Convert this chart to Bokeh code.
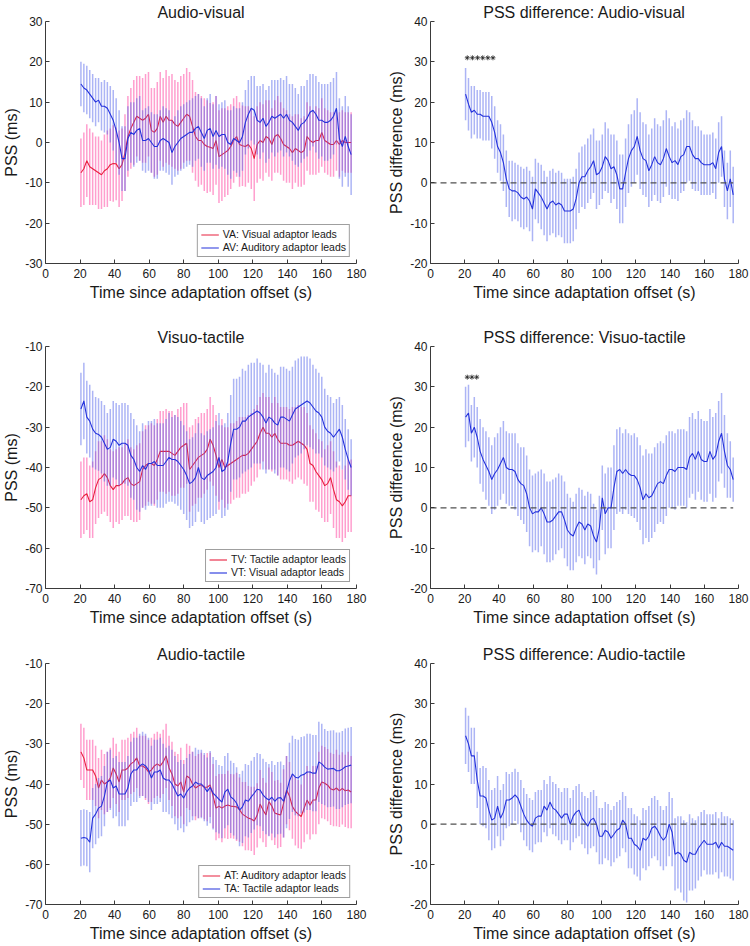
from bokeh.plotting import figure
from bokeh.layouts import column, row
from bokeh.models import (Range1d, FixedTicker, ColumnDataSource, Legend,
                          LegendItem, CustomJSTickFormatter)
from bokeh.embed import file_html
from bokeh.resources import INLINE

# ---------------- data ----------------
times = [round(20.5 + 1.7 * i, 2) for i in range(93)]
x_ticks = [0, 20, 40, 60, 80, 100, 120, 140, 160, 180]

# Audio-visual
va = [-7.5,-6.5,-4.5,-6.0,-6.5,-7.0,-7.5,-8.0,-7.0,-6.5,
      -5.5,-5.2,-5.3,-6.5,-5.5,-2.5,1.5,3.5,5.0,6.5,
      6.0,5.5,6.0,7.0,3.0,2.5,3.5,6.5,5.0,6.5,
      5.5,5.5,4.5,4.0,5.0,6.0,7.0,6.5,4.0,1.5,
      0.5,0.5,-0.5,-1.0,-1.2,-1.5,0.5,-3.5,-3.0,-2.5,
      -2.0,-1.0,0.5,1.5,-0.5,-0.8,-1.0,-0.5,-1.5,-4.0,
      -0.5,0.5,0.0,1.5,1.0,-0.5,1.5,2.0,1.0,-0.5,
      -1.0,-1.5,-2.5,-1.5,-2.0,-2.5,-2.0,1.5,0.5,0.0,
      0.5,0.5,2.5,0.5,0.0,-0.5,-0.5,0.5,-0.5,0.5,
      0.0,0.0,0.0]
va_err = [8.5,9.0,9.0,9.5,9.0,8.5,9.0,8.5,9.0,9.5,
          9.0,9.5,9.0,9.5,9.0,9.5,10.0,10.0,10.5,10.0,
          10.5,10.5,11.0,10.5,10.5,11.0,11.5,11.0,11.0,11.5,
          11.0,11.5,11.0,11.0,11.5,11.0,11.5,11.0,11.5,11.0,
          11.5,11.0,11.5,11.5,11.0,11.5,11.0,11.5,11.5,11.0,
          11.0,10.5,10.5,10.0,10.5,10.0,10.0,9.5,10.0,10.5,
          9.5,9.5,9.5,9.0,9.5,9.0,9.0,9.5,9.0,9.0,
          9.0,8.5,9.0,8.5,9.0,8.5,8.5,8.5,8.5,8.0,
          8.5,8.0,8.5,8.0,8.0,8.0,8.0,7.5,8.0,7.5,
          7.5,7.5,7.5]
av = [14.5,13.5,13.0,12.0,11.0,10.0,10.5,9.0,9.0,8.5,
      7.0,5.5,3.0,0.0,-4.0,-4.0,1.0,2.5,2.0,3.0,
      3.5,0.5,0.5,1.0,0.0,-1.0,-1.0,0.5,1.0,0.5,
      0.0,-2.5,-1.0,0.0,1.0,1.5,2.0,2.5,2.5,3.5,
      4.0,2.5,1.0,3.0,3.5,1.5,3.0,1.5,2.0,2.0,
      0.0,-0.5,1.0,0.5,0.0,1.5,5.0,7.0,8.5,8.0,
      5.5,5.0,6.0,4.0,5.0,6.5,6.0,6.5,7.0,6.0,
      7.0,5.5,5.0,4.0,3.0,4.5,5.0,6.0,7.5,8.0,
      7.0,5.5,5.5,5.0,5.0,5.5,6.5,8.5,1.0,-1.0,
      1.5,-1.0,-3.0]
av_err = [5.5,6.0,6.0,6.0,6.0,6.0,5.5,6.0,6.5,6.5,
          7.0,7.5,8.0,8.0,8.0,8.0,8.0,7.5,8.0,8.0,
          8.0,7.5,8.0,8.0,7.5,8.0,8.0,7.5,8.0,8.0,
          8.0,8.0,7.5,8.0,8.0,8.0,8.0,8.0,8.5,8.0,
          8.0,8.5,8.0,8.0,8.5,8.0,8.5,8.0,8.0,8.5,
          8.0,8.5,8.0,8.0,8.5,8.5,8.0,8.5,8.0,8.5,
          8.5,9.0,8.5,9.0,9.0,9.0,9.5,9.0,9.0,9.5,
          9.5,9.0,9.5,9.5,9.0,9.5,9.0,9.5,9.5,9.0,
          9.5,9.5,9.0,9.5,9.5,9.5,9.5,9.0,10.0,10.0,
          10.0,10.0,10.0]
av_diff = [22.0,19.5,17.5,18.0,17.0,17.0,16.5,16.5,16.5,15.0,
           12.5,9.0,7.5,5.0,1.0,-1.5,-2.0,-2.0,-2.5,-3.5,
           -4.0,-3.5,-4.5,-6.5,-1.5,-2.5,-3.5,-5.0,-6.5,-5.0,
           -4.5,-5.5,-5.0,-5.5,-7.0,-7.0,-7.0,-6.5,-4.0,0.0,
           1.5,1.5,3.0,4.0,5.5,2.0,2.5,4.0,6.5,5.5,
           3.5,4.0,2.0,-1.5,-1.5,2.5,6.0,8.0,9.0,11.5,
           8.0,6.0,5.5,3.0,4.5,6.5,5.0,4.5,6.0,8.5,
           6.5,5.0,5.5,4.5,6.5,7.0,9.0,9.0,7.0,6.0,
           6.0,5.0,4.5,4.5,4.5,5.0,3.5,7.5,9.0,1.0,
           -2.0,1.0,-3.0]
av_diff_err = [6.5,6.5,6.5,6.0,6.0,6.0,6.0,6.0,6.0,6.5,
               6.5,6.5,7.0,7.0,7.0,7.0,7.5,7.0,7.0,7.5,
               7.5,7.5,7.5,8.0,7.5,7.5,8.0,8.0,8.0,8.0,
               8.0,8.0,8.0,8.0,8.0,8.0,8.0,8.0,7.5,7.5,
               7.5,8.0,8.0,8.0,8.0,8.5,8.0,8.0,8.5,8.0,
               8.5,8.0,8.5,8.5,8.5,8.5,8.5,9.0,9.0,9.5,
               9.5,9.0,9.0,9.0,9.0,9.5,9.5,9.5,9.5,9.5,
               9.5,9.0,9.5,9.0,9.0,9.0,9.0,8.5,8.5,8.0,
               8.0,8.0,7.5,7.5,7.5,7.5,7.5,7.5,7.5,7.0,
               7.0,7.0,7.0]
av_sig = [21.5, 24.5, 27.5, 30.5, 33.5, 36.5]
av_sig_y = 31

# Visuo-tactile
tv = [-48.0,-47.0,-46.5,-48.5,-48.0,-45.0,-43.0,-42.5,-41.5,-42.5,
      -44.5,-45.5,-44.5,-44.5,-44.0,-43.0,-42.5,-44.0,-44.5,-44.0,
      -43.5,-40.5,-39.5,-39.0,-39.0,-39.5,-38.0,-36.0,-36.0,-36.0,
      -36.0,-36.5,-37.0,-36.0,-35.0,-34.5,-34.0,-40.5,-39.5,-38.5,
      -37.5,-37.0,-36.5,-35.5,-33.0,-34.5,-37.0,-40.0,-38.0,-40.0,
      -39.5,-39.0,-38.5,-38.0,-37.5,-37.0,-37.0,-36.5,-35.5,-34.5,
      -33.5,-31.5,-30.0,-31.5,-31.5,-32.5,-31.5,-33.0,-34.0,-34.0,
      -34.0,-34.5,-34.5,-34.0,-33.5,-34.0,-34.5,-35.5,-39.0,-39.5,
      -41.0,-42.0,-43.0,-44.5,-44.0,-42.5,-45.5,-48.0,-48.5,-49.5,
      -48.5,-47.0,-47.0]
tv_err = [9.5,9.5,9.0,9.0,9.5,9.0,9.5,9.0,9.5,9.5,
          9.0,9.5,9.0,9.5,9.0,9.0,9.5,9.0,9.0,9.5,
          9.5,9.5,10.0,9.5,10.0,10.0,10.0,10.0,10.0,10.5,
          10.0,10.5,10.0,10.5,10.0,10.5,10.0,10.5,10.0,10.5,
          10.0,10.5,10.0,10.0,10.5,10.0,10.0,10.5,10.0,10.0,
          9.5,10.0,9.5,9.5,10.0,9.5,9.5,9.5,9.0,9.0,
          9.0,9.0,8.5,9.0,9.0,8.5,9.0,9.0,9.0,9.0,
          9.0,9.0,9.5,9.0,9.0,9.0,9.5,9.0,9.5,9.0,
          9.5,9.0,9.5,9.0,9.5,9.0,9.5,9.5,9.0,9.0,
          9.0,9.0,9.0]
vt = [-25.5,-23.5,-27.5,-28.5,-30.5,-31.5,-31.8,-32.5,-34.0,-35.5,
      -35.0,-33.0,-33.5,-34.5,-34.0,-34.0,-34.5,-37.0,-38.0,-40.0,
      -41.0,-39.5,-40.5,-39.0,-39.0,-38.5,-39.5,-39.5,-39.5,-38.5,
      -37.5,-38.0,-38.0,-38.5,-39.5,-40.5,-42.0,-44.0,-43.5,-42.5,
      -40.0,-42.5,-43.0,-42.0,-41.5,-41.0,-40.0,-37.5,-41.0,-40.5,
      -38.5,-34.0,-30.5,-30.5,-30.0,-28.5,-28.5,-27.5,-27.0,-26.5,
      -26.0,-26.5,-27.5,-29.0,-27.5,-28.0,-29.0,-29.5,-27.5,-27.5,
      -28.0,-28.5,-27.0,-25.5,-25.0,-24.5,-24.0,-23.5,-24.0,-25.0,
      -26.0,-26.5,-27.5,-30.0,-31.0,-31.5,-32.5,-31.5,-30.5,-32.5,
      -35.5,-38.0,-40.0]
vt_err = [9.0,9.5,9.0,9.0,9.5,9.0,9.0,9.0,9.5,9.0,
          9.5,9.5,9.5,10.0,10.0,10.0,10.0,10.5,10.0,10.5,
          10.0,10.5,10.0,10.5,10.5,10.5,10.5,10.5,10.5,10.5,
          11.0,10.5,11.0,11.0,11.0,11.0,11.0,11.0,11.0,11.0,
          11.0,11.0,11.0,11.0,11.0,11.0,11.5,11.0,11.5,11.5,
          12.0,12.0,12.5,12.5,12.5,13.0,12.5,13.0,13.0,12.5,
          13.0,12.5,13.0,12.5,13.0,12.5,12.5,12.5,12.5,12.5,
          12.5,12.5,12.0,12.0,12.0,12.0,11.5,11.0,11.0,10.5,
          10.5,10.0,10.0,9.5,9.0,9.0,8.5,8.5,8.0,8.0,
          7.5,7.5,7.0]
vt_diff = [22.5,23.5,18.5,20.0,17.5,14.0,12.0,10.5,9.0,7.0,
           8.5,9.5,11.0,12.5,10.0,9.5,9.5,9.0,7.0,6.0,
           5.5,3.5,0.0,-1.5,-1.0,-1.0,0.0,-1.5,-3.5,-3.5,
           -3.0,-2.0,-1.0,-1.0,-3.0,-5.5,-6.5,-7.0,-5.0,-3.5,
           -4.0,-5.5,-4.0,-4.5,-7.0,-8.5,-5.0,2.5,-1.5,0.0,
           0.0,5.0,9.0,9.5,8.5,9.5,8.5,8.0,8.0,7.0,
           5.0,2.0,3.5,2.5,3.0,4.5,6.0,6.5,6.0,8.0,
           9.5,9.5,9.0,10.0,10.0,10.0,9.5,12.5,13.5,12.0,
           14.0,12.0,11.5,11.5,14.0,12.0,13.0,16.5,18.5,14.0,
           10.5,9.5,7.0]
vt_diff_err = [7.5,7.0,7.0,7.5,7.5,8.0,8.0,8.5,8.5,8.5,
               9.0,9.0,9.0,9.0,9.0,9.0,9.0,9.5,9.0,9.0,
               9.5,9.5,9.5,9.5,9.5,10.0,9.5,10.0,10.0,10.0,
               10.0,9.5,9.5,9.0,9.5,9.0,9.0,8.5,8.5,8.5,
               8.5,8.5,8.0,8.0,8.0,8.0,8.0,8.0,10.0,10.0,
               10.0,10.5,10.5,10.5,10.0,10.0,10.0,10.0,10.5,10.5,
               10.5,11.0,11.0,11.0,10.5,10.5,10.0,10.0,10.0,10.0,
               9.5,9.5,9.5,9.5,9.5,9.5,9.5,10.0,10.0,10.0,
               10.0,10.0,10.0,10.0,10.5,10.5,10.5,10.0,10.0,9.0,
               8.0,7.0,5.5]
vt_sig = [21.5, 24.2, 27.0]
vt_sig_y = 32.4

# Audio-tactile
at = [-32.0,-33.5,-36.5,-36.5,-36.5,-38.0,-41.0,-39.0,-40.0,-39.5,
      -38.5,-36.0,-37.5,-39.5,-36.5,-36.5,-36.0,-35.0,-34.5,-33.5,
      -35.5,-35.5,-36.0,-37.0,-36.5,-35.5,-35.0,-35.5,-34.5,-33.0,
      -36.0,-37.5,-40.0,-40.5,-39.5,-42.0,-38.0,-38.5,-40.0,-41.0,
      -40.5,-40.2,-40.8,-40.8,-40.2,-43.0,-46.0,-45.5,-46.0,-45.5,
      -45.2,-45.5,-45.6,-45.7,-46.4,-47.5,-48.0,-48.5,-48.7,-49.2,
      -47.8,-45.0,-46.5,-47.7,-44.4,-45.5,-47.2,-47.5,-47.7,-44.8,
      -41.5,-43.0,-45.6,-46.8,-47.5,-48.1,-46.0,-44.0,-45.3,-44.0,
      -44.0,-41.0,-39.5,-39.8,-40.3,-41.2,-41.5,-41.0,-41.7,-41.1,
      -41.7,-41.5,-42.0]
at_err = [7.0,7.5,7.5,7.5,7.5,7.5,7.5,7.5,7.5,7.5,
          7.5,7.5,7.5,7.5,7.5,7.5,7.5,7.5,7.5,7.5,
          7.5,7.5,8.0,8.0,8.0,8.0,8.0,8.0,8.0,8.0,
          8.0,8.0,8.0,8.0,8.5,8.0,8.0,8.0,8.0,8.0,
          8.0,8.0,8.0,8.5,8.0,8.0,8.0,8.0,8.5,8.0,
          8.5,8.0,8.0,8.5,8.0,8.0,8.5,8.0,8.0,8.5,
          8.0,8.5,8.0,8.0,8.5,8.5,8.0,8.5,8.0,8.5,
          8.5,8.5,8.0,8.5,8.5,8.0,8.5,8.5,8.5,8.5,
          8.5,9.0,9.0,9.0,9.0,9.0,9.0,9.5,9.0,9.0,
          9.0,9.5,9.0]
ta = [-53.5,-53.3,-53.5,-54.5,-48.5,-47.5,-46.0,-45.5,-43.0,-39.5,
      -39.0,-41.0,-40.5,-42.5,-42.5,-42.5,-41.0,-37.5,-36.5,-36.5,
      -35.5,-35.0,-35.5,-36.5,-38.5,-37.0,-37.0,-36.5,-38.5,-39.0,
      -39.0,-40.0,-41.5,-43.0,-42.5,-43.5,-42.0,-41.0,-40.5,-39.5,
      -40.0,-40.0,-40.8,-41.9,-40.8,-42.3,-43.0,-43.8,-44.5,-42.0,
      -41.3,-43.2,-43.8,-44.8,-46.5,-45.7,-44.0,-44.3,-43.2,-42.3,
      -41.3,-41.5,-42.7,-43.5,-44.0,-43.3,-44.3,-43.5,-43.4,-44.3,
      -42.0,-39.2,-37.5,-38.3,-38.5,-37.8,-37.6,-37.0,-37.0,-37.3,
      -37.3,-34.5,-35.0,-35.8,-36.3,-36.2,-36.1,-36.7,-36.7,-36.3,
      -35.7,-35.5,-35.3]
ta_err = [7.0,7.0,7.0,7.5,7.5,7.5,7.5,7.5,7.5,7.5,
          7.5,7.5,7.5,8.0,8.0,8.0,8.0,8.0,8.0,8.0,
          8.0,8.0,8.0,8.0,8.0,8.0,8.0,8.0,8.5,8.0,
          8.5,8.5,8.5,8.5,8.5,8.5,8.5,8.5,8.5,8.5,
          8.5,8.5,8.5,8.5,9.0,9.0,9.0,8.5,9.0,9.0,
          9.0,9.0,9.0,9.0,9.0,9.0,9.0,9.0,9.0,9.0,
          9.0,9.0,9.0,9.0,9.0,9.0,9.0,9.0,9.0,9.0,
          9.0,9.5,9.5,9.5,9.5,9.5,9.5,9.5,9.5,9.5,
          9.5,10.0,10.0,9.5,9.5,9.5,9.5,9.5,9.5,9.5,
          9.5,9.5,9.5]
at_diff = [22.0,20.0,17.0,17.0,11.0,7.0,7.0,6.5,3.5,1.0,
           1.5,4.5,1.5,3.0,6.0,6.0,6.5,7.3,6.5,4.5,
           2.5,1.0,0.0,-0.5,1.5,2.0,2.0,4.5,3.5,5.5,
           4.0,3.5,2.5,1.5,2.5,2.5,0.0,2.0,3.0,3.5,
           1.5,0.5,-0.5,1.0,1.5,0.0,-3.0,-3.0,-1.5,-2.0,
           -3.5,-2.5,-1.5,-1.0,1.0,0.0,-3.5,-3.5,-5.0,-5.5,
           -6.5,-3.5,-4.0,-3.0,-1.0,-0.5,-1.5,-3.0,-4.0,-3.0,
           0.0,-2.0,-7.5,-7.0,-7.5,-9.0,-9.5,-7.0,-7.5,-7.5,
           -6.0,-5.0,-4.0,-5.0,-5.0,-5.0,-4.5,-6.0,-4.5,-5.5,
           -5.5,-6.0,-6.5]
at_diff_err = [7.0,7.0,7.0,7.0,7.0,7.0,7.5,7.5,7.5,7.5,
               7.5,7.5,7.0,7.0,7.0,6.5,6.5,6.5,6.5,6.5,
               6.5,6.5,6.5,6.5,6.5,6.5,6.5,6.5,6.5,6.5,
               6.5,6.5,6.5,6.5,6.5,6.5,6.5,6.5,6.5,6.5,
               6.5,6.5,7.0,7.0,7.0,7.0,7.0,7.0,7.0,7.0,
               7.0,7.0,7.0,7.0,7.0,7.0,7.5,7.5,7.5,7.5,
               7.5,7.5,7.5,7.5,7.5,7.5,7.5,7.5,7.5,7.5,
               8.0,8.5,9.0,9.0,9.5,10.0,10.0,9.5,9.0,8.5,
               8.0,8.0,7.5,7.5,7.5,7.5,7.5,7.5,7.5,7.5,
               7.5,7.5,7.5]

# ---------------- style ----------------
FONT = "Liberation Sans"
TEXT = "#1a1a1a"
AXIS = "#3a3a3a"
RED_LINE = "#e8203f"
BLUE_LINE = "#2432dc"
PINK_BAR = "#ff4fa6"
BLUE_BAR = "#4f60ea"

LEFT_W, RIGHT_W = 380, 370
ROW_TOP = [21, 21, 21]
ROW_FRAME = [242, 242, 241]
ROW_BOTTOM = [62, 54, 40]


def make_fig(title, y0, y1, ylabel, left_col, r):
    width = LEFT_W if left_col else RIGHT_W
    mbl = 45 if left_col else 50
    mbr = 24 if left_col else 12
    top, fh, bottom = ROW_TOP[r], ROW_FRAME[r], ROW_BOTTOM[r]
    p = figure(width=width, height=top + fh + bottom,
               x_range=Range1d(0, 180), y_range=Range1d(y0, y1),
               output_backend="svg", toolbar_location=None,
               min_border_left=mbl, min_border_right=mbr,
               min_border_top=top, min_border_bottom=bottom)
    p.title.text = title
    p.title.align = "center"
    p.title.text_font = FONT
    p.title.text_font_size = "16px"
    p.title.text_font_style = "normal"
    p.title.text_color = TEXT
    p.title.standoff = 2
    p.outline_line_color = None
    p.xgrid.visible = False
    p.ygrid.visible = False
    p.xaxis.ticker = FixedTicker(ticks=x_ticks)
    p.yaxis.ticker = FixedTicker(ticks=list(range(y0, y1 + 1, 10)))
    p.xaxis.formatter = CustomJSTickFormatter(code="return tick.toFixed(0);")
    p.yaxis.formatter = CustomJSTickFormatter(code="return tick.toFixed(0);")
    p.xaxis.axis_label = "Time since adaptation offset (s)"
    p.yaxis.axis_label = ylabel
    for ax in (p.xaxis, p.yaxis):
        ax.axis_label_text_font = FONT
        ax.axis_label_text_font_size = "16px"
        ax.axis_label_text_font_style = "normal"
        ax.axis_label_text_color = TEXT
        ax.major_label_text_font = FONT
        ax.major_label_text_font_size = "12px"
        ax.major_label_text_color = TEXT
        ax.axis_line_color = AXIS
        ax.major_tick_line_color = AXIS
        ax.major_tick_in = 4
        ax.major_tick_out = 0
        ax.minor_tick_line_color = None
    p.xaxis.major_label_standoff = 5
    p.xaxis.axis_label_standoff = 3
    p.yaxis.major_label_standoff = 3
    p.yaxis.axis_label_standoff = 2
    return p


def add_series(p, vals, errs, bar_color, bar_alpha, line_color):
    src = ColumnDataSource(dict(
        t=times, v=vals,
        lo=[v - e for v, e in zip(vals, errs)],
        hi=[v + e for v, e in zip(vals, errs)]))
    p.segment(x0="t", y0="lo", x1="t", y1="hi", source=src,
              line_color=bar_color, line_alpha=bar_alpha, line_width=1.5)
    return p.line(x="t", y="v", source=src, line_color=line_color, line_width=1.1)


def left_panel(title, y0, y1, red, red_err, blue, blue_err, red_lab, blue_lab, r):
    p = make_fig(title, y0, y1, "PSS (ms)", True, r)
    r1 = add_series(p, red, red_err, PINK_BAR, 0.55, RED_LINE)
    r2 = add_series(p, blue, blue_err, BLUE_BAR, 0.47, BLUE_LINE)
    leg = Legend(items=[LegendItem(label=red_lab, renderers=[r1]),
                        LegendItem(label=blue_lab, renderers=[r2])],
                 location="bottom_right")
    leg.label_text_font = FONT
    leg.label_text_font_size = "10.5px"
    leg.label_text_color = TEXT
    leg.label_height = 11
    leg.glyph_height = 11
    leg.glyph_width = 18
    leg.spacing = 1
    leg.padding = 3
    leg.margin = 6
    leg.label_standoff = 4
    leg.border_line_color = "#404040"
    leg.border_line_width = 1
    leg.background_fill_alpha = 1
    p.add_layout(leg, "center")
    return p


def right_panel(title, vals, errs, r, sig=None, sig_y=None):
    p = make_fig(title, -20, 40, "PSS difference (ms)", False, r)
    add_series(p, vals, errs, BLUE_BAR, 0.47, BLUE_LINE)
    p.line(x=[0, times[-1]], y=[0, 0], line_color="#505050",
           line_dash="6 4", line_width=1.3)
    if sig:
        p.scatter(x=sig, y=[sig_y] * len(sig), marker="asterisk", size=5,
                  line_color="#222222", line_width=0.8)
    return p


p1 = left_panel("Audio-visual", -30, 30, va, va_err, av, av_err,
                "VA: Visual adaptor leads", "AV: Auditory adaptor leads", 0)
p2 = right_panel("PSS difference: Audio-visual", av_diff, av_diff_err, 0, av_sig, av_sig_y)
p3 = left_panel("Visuo-tactile", -70, -10, tv, tv_err, vt, vt_err,
                "TV: Tactile adaptor leads", "VT: Visual adaptor leads", 1)
p4 = right_panel("PSS difference: Visuo-tactile", vt_diff, vt_diff_err, 1, vt_sig, vt_sig_y)
p5 = left_panel("Audio-tactile", -70, -10, at, at_err, ta, ta_err,
                "AT: Auditory adaptor leads", "TA: Tactile adaptor leads", 2)
p6 = right_panel("PSS difference: Audio-tactile", at_diff, at_diff_err, 2)

layout = column(row(p1, p2), row(p3, p4), row(p5, p6))

open("out.html", "w").write(file_html(layout, INLINE))
